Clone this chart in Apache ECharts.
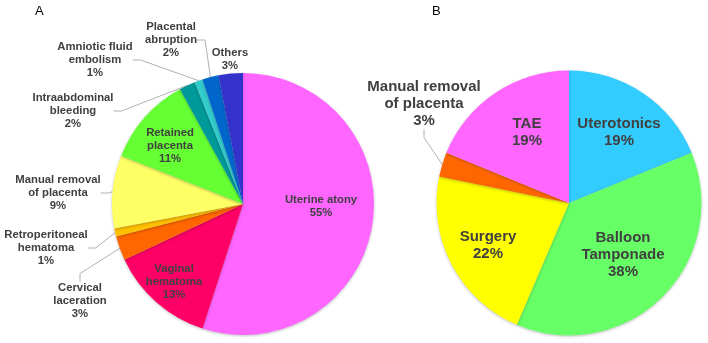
<!DOCTYPE html>
<html><head><meta charset="utf-8">
<script src="https://cdn.jsdelivr.net/npm/echarts@6/dist/echarts.min.js"></script>
<style>html,body{margin:0;padding:0;background:#fff}#c{width:708px;height:343px}</style>
</head><body><div id="c"></div>
<script>
// Panel A: causes
const causesA = ['Uterine atony','Vaginal\nhematoma','Cervical\nlaceration','Retroperitoneal\nhematoma','Manual removal\nof placenta','Retained\nplacenta','Intraabdominal\nbleeding','Amniotic fluid\nembolism','Placental\nabruption','Others'];
const valuesA = [55, 13, 3, 1, 9, 11, 2, 1, 2, 3];
const colorsA = ['#FF66FF','#FF0066','#FF6600','#FFC000','#FFFF66','#66FF33','#009999','#33CCCC','#0066CC','#3333CC'];
const lineA = [false, false, true, true, true, false, true, true, true, false];
// label centres (layout only)
const labelPosA = [[321,206],[174,282],[80,301],[46,248],[58,193],[170,146],[73,111],[95,60],[171,40],[230,59]];

// Panel B: treatments
const treatB = ['Uterotonics','Balloon\nTamponade','Surgery','Manual removal\nof placenta','TAE'];
const valuesB = [19, 38, 22, 3, 19];
const colorsB = ['#33CCFF','#66FF66','#FFFF00','#FF6600','#FF66FF'];
const lineB = [false, false, false, true, false];
const labelPosB = [[619,132],[623,255],[488,245],[424,104],[527,132]];

function buildData(names, vals, cols, lines) {
  return names.map((n, i) => ({
    name: n, value: vals[i],
    itemStyle: { color: cols[i] },
    labelLine: { show: lines[i], length: 8, length2: 8, lineStyle: { color: '#B0B0B0', width: 1 } }
  }));
}
function layoutFn(pos) {
  return function (p) {
    const q = pos[p.dataIndex];
    return { x: q[0], y: q[1], align: 'center', verticalAlign: 'middle' };
  };
}
const chart = echarts.init(document.getElementById('c'), null, { renderer: 'canvas' });
const shadow = { shadowBlur: 3, shadowColor: 'rgba(0,0,0,0.25)', shadowOffsetY: 1 };
chart.setOption({
  animation: false,
  graphic: [
    { type: 'text', left: 35, top: 5, style: { text: 'A', font: '13px "Liberation Sans", Arial, sans-serif', fill: '#000' } },
    { type: 'text', left: 432, top: 5, style: { text: 'B', font: '13px "Liberation Sans", Arial, sans-serif', fill: '#000' } }
  ],
  series: [
    {
      type: 'pie', center: [243, 204], radius: 131, startAngle: 90, clockwise: true,
      avoidLabelOverlap: false, minAngle: 0,
      itemStyle: shadow,
      label: { show: true, position: 'outside', formatter: '{b}\n{c}%', color: '#404040',
               fontFamily: '"Liberation Sans", Arial, sans-serif', fontWeight: 'bold', fontSize: 11.3, lineHeight: 13, align: 'center' },
      labelLayout: layoutFn(labelPosA),
      data: buildData(causesA, valuesA, colorsA, lineA)
    },
    {
      type: 'pie', center: [569, 203], radius: 132.5, startAngle: 90, clockwise: true,
      avoidLabelOverlap: false,
      itemStyle: shadow,
      label: { show: true, position: 'outside', formatter: '{b}\n{c}%', color: '#404040',
               fontFamily: '"Liberation Sans", Arial, sans-serif', fontWeight: 'bold', fontSize: 15, lineHeight: 17, align: 'center' },
      labelLayout: layoutFn(labelPosB),
      data: buildData(treatB, valuesB, colorsB, lineB)
    }
  ]
});
</script></body></html>
